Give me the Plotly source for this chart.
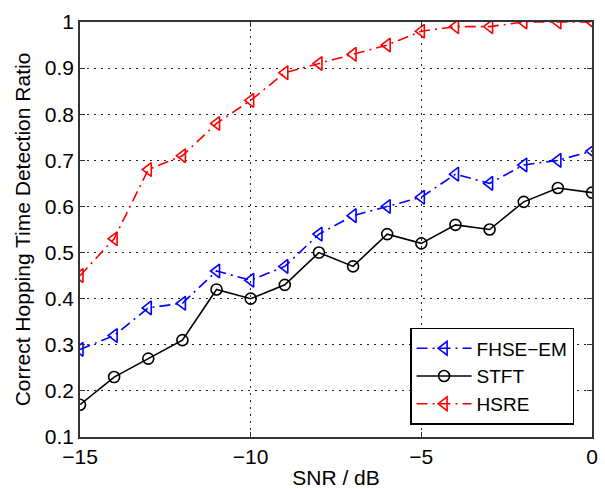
import plotly.graph_objects as go

snr = [-15, -14, -13, -12, -11, -10, -9, -8, -7, -6, -5, -4, -3, -2, -1, 0]
fhse_em = [0.29, 0.32, 0.38, 0.39, 0.46, 0.44, 0.47, 0.54, 0.58, 0.60, 0.62, 0.67, 0.65, 0.69, 0.70, 0.72]
stft = [0.17, 0.23, 0.27, 0.31, 0.42, 0.40, 0.43, 0.50, 0.47, 0.54, 0.52, 0.56, 0.55, 0.61, 0.64, 0.63]
hsre = [0.45, 0.53, 0.68, 0.71, 0.78, 0.83, 0.89, 0.91, 0.93, 0.95, 0.98, 0.99, 0.99, 1.0, 1.0, 1.0]

x_ticks = [-15, -10, -5, 0]
x_tick_text = ["\u221215", "\u221210", "\u22125", "0"]
y_ticks = [0.1, 0.2, 0.3, 0.4, 0.5, 0.6, 0.7, 0.8, 0.9, 1.0]
y_tick_text = ["0.1", "0.2", "0.3", "0.4", "0.5", "0.6", "0.7", "0.8", "0.9", "1"]

FONT = "Liberation Sans, Arial"
DASHDOT = "11px,5px,2px,5px"

fig = go.Figure()
fig.add_trace(go.Scatter(x=snr, y=fhse_em, name="FHSE\u2212EM", mode="lines+markers",
                         line=dict(color="#0000ff", width=1.6, dash=DASHDOT),
                         marker=dict(symbol="triangle-left-open", size=12, color="#0000ff", line=dict(width=1.6))))
fig.add_trace(go.Scatter(x=snr, y=stft, name="STFT", mode="lines+markers",
                         line=dict(color="black", width=1.6),
                         marker=dict(symbol="circle-open", size=11, color="black", line=dict(width=1.6))))
fig.add_trace(go.Scatter(x=snr, y=hsre, name="HSRE", mode="lines+markers",
                         line=dict(color="#ff0000", width=1.6, dash=DASHDOT),
                         marker=dict(symbol="triangle-left-open", size=12, color="#ff0000", line=dict(width=1.6))))

axis_common = dict(showline=True, linecolor="#333333", linewidth=1.5, mirror="ticks",
                   ticks="inside", ticklen=5, tickcolor="#333333",
                   showgrid=True, gridcolor="#222222", griddash="2px,5px", gridwidth=1,
                   zeroline=False, automargin=False,
                   tickfont=dict(family=FONT, size=21, color="black"))

fig.update_xaxes(range=[-15, 0], tickvals=x_ticks, ticktext=x_tick_text,
                 title=dict(text="SNR / dB", font=dict(family=FONT, size=21, color="black"), standoff=4),
                 **axis_common)
fig.update_yaxes(range=[0.1, 1.0], tickvals=y_ticks, ticktext=y_tick_text,
                 title=dict(text="Correct Hopping Time Detection Ratio", font=dict(family=FONT, size=21, color="black"), standoff=8),
                 **axis_common)

fig.update_layout(
    width=605, height=489,
    margin=dict(l=80, r=13, t=22, b=52),
    paper_bgcolor="white", plot_bgcolor="white",
    font=dict(family=FONT, size=20, color="black"),
    legend=dict(x=0.965, y=0.029, xanchor="right", yanchor="bottom",
                bgcolor="white", bordercolor="black", borderwidth=1.5,
                font=dict(size=19), tracegroupgap=0, itemwidth=55),
)

fig.write_html("out.html")
